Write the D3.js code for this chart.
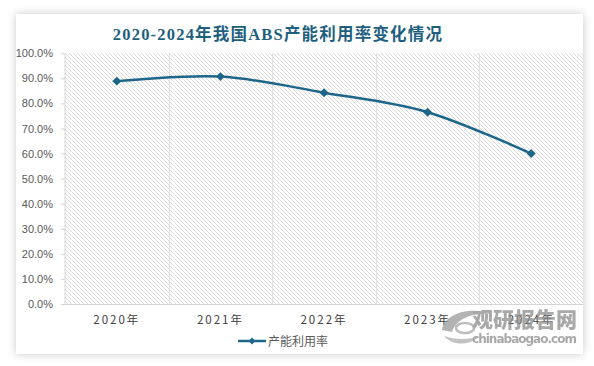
<!DOCTYPE html>
<html>
<head>
<meta charset="utf-8">
<script src="https://cdn.jsdelivr.net/npm/d3@7"></script>
<style>
  html, body { margin: 0; padding: 0; background: #ffffff; }
  svg { display: block; }
</style>
</head>
<body>
<svg id="chart" width="594" height="366"></svg>
<script>
const title = "2020-2024年我国ABS产能利用率变化情况";
const categories = ["2020年", "2021年", "2022年", "2023年", "2024年"];
const values = [88.9, 90.7, 84.3, 76.5, 60.0];
const seriesName = "产能利用率";
const yTicks = [0, 10, 20, 30, 40, 50, 60, 70, 80, 90, 100];

const W = 594, H = 366;
const plot = { left: 65, right: 583, top: 53.3, bottom: 304 };
const lineColor = "#1d6689";

const svg = d3.select("#chart");
const defs = svg.append("defs");

const shadow = defs.append("filter").attr("id", "shadow")
  .attr("x", "-10%").attr("y", "-10%").attr("width", "120%").attr("height", "120%");
shadow.append("feDropShadow").attr("dx", 0).attr("dy", 0)
  .attr("stdDeviation", 4).attr("flood-color", "#000").attr("flood-opacity", 0.22);

const pat = defs.append("pattern").attr("id", "hatch")
  .attr("patternUnits", "userSpaceOnUse").attr("width", 4).attr("height", 4);
pat.append("rect").attr("width", 4).attr("height", 4).attr("fill", "#ffffff");
pat.append("path").attr("d", "M-1,-1 L5,5 M-1,3 L1,5 M3,-1 L5,1")
  .attr("stroke", "#dcdcdc").attr("stroke-width", 1);

// card
svg.append("rect").attr("x", 16).attr("y", 14).attr("width", 567).attr("height", 340)
  .attr("fill", "#ffffff").attr("filter", "url(#shadow)");

// scales
const x = d3.scaleBand().domain(categories).range([plot.left, plot.right]).padding(0);
const y = d3.scaleLinear().domain([0, 100]).range([plot.bottom, plot.top]);

// plot area background hatch
svg.append("rect").attr("x", plot.left).attr("y", y(100))
  .attr("width", plot.right - plot.left).attr("height", y(0) - y(100))
  .attr("fill", "url(#hatch)");

// vertical gridlines at category boundaries
svg.append("g").selectAll("line").data(categories.slice(1)).join("line")
  .attr("x1", d => Math.round(x(d)) + 0.5).attr("x2", d => Math.round(x(d)) + 0.5)
  .attr("y1", y(100)).attr("y2", y(0))
  .attr("stroke", "#dedede").attr("stroke-width", 1);

// y axis
const yAxis = d3.axisLeft(y).tickValues(yTicks).tickSize(4).tickPadding(8)
  .tickFormat(d => d.toFixed(1) + "%");
const gy = svg.append("g").attr("transform", `translate(${plot.left},0)`).call(yAxis);
gy.select(".domain").attr("stroke", "#d4d4d4").attr("d", `M0,${y(100)}V${y(0)}`);
gy.selectAll(".tick line").attr("stroke", "#d4d4d4");
gy.selectAll(".tick text").attr("fill", "#595959")
  .style("font-family", "'Liberation Sans', Arial, sans-serif").style("font-size", "11px");

// x axis
const xAxis = d3.axisBottom(x).tickSize(0).tickPadding(12);
const gx = svg.append("g").attr("transform", `translate(0,${plot.bottom})`).call(xAxis);
gx.select(".domain").attr("stroke", "#d4d4d4").attr("d", `M${plot.left},0.5H${plot.right}`);
gx.selectAll(".tick text").attr("fill", "#404040")
  .style("font-family", "'Noto Sans CJK SC', 'Liberation Sans', sans-serif")
  .style("font-size", "11.5px").style("letter-spacing", "2px");

// line
const pts = categories.map((c, i) => [x(c) + x.bandwidth() / 2, y(values[i])]);
const line = d3.line().curve(d3.curveCardinal.tension(0));
svg.append("path").attr("d", line(pts)).attr("fill", "none")
  .attr("stroke", lineColor).attr("stroke-width", 2.5);

svg.append("g").selectAll("path").data(pts).join("path")
  .attr("d", d3.symbol().type(d3.symbolSquare).size(40))
  .attr("transform", d => `translate(${d[0]},${d[1]}) rotate(45)`)
  .attr("fill", lineColor);

// title
svg.append("text").attr("x", 278).attr("y", 40).attr("text-anchor", "middle")
  .attr("fill", "#1e5f80")
  .style("font-family", "'Liberation Serif', 'Noto Sans CJK SC', serif")
  .style("font-weight", "bold").style("font-size", "16.5px").style("letter-spacing", "1.2px")
  .text(title);

// legend
const lg = svg.append("g").attr("transform", "translate(238,341)");
lg.append("line").attr("x1", 0).attr("x2", 28).attr("y1", 0).attr("y2", 0)
  .attr("stroke", lineColor).attr("stroke-width", 2.5);
lg.append("path").attr("d", d3.symbol().type(d3.symbolSquare).size(24))
  .attr("transform", "translate(14,0) rotate(45)").attr("fill", lineColor);
lg.append("text").attr("x", 30).attr("y", 4.5).attr("fill", "#595959")
  .style("font-family", "'Noto Sans CJK SC', sans-serif").style("font-size", "12px")
  .text(seriesName);

// watermark
const wm = svg.append("g").attr("opacity", 0.75);
wm.append("path").attr("d", "M442,330 C444,314 470,306 492,314 C474,312 456,318 452,332 Z")
  .attr("fill", "#9a9a9a");
wm.append("path").attr("d", "M444,336 C452,346 470,346 480,336 C468,340 456,340 444,336 Z")
  .attr("fill", "#b0b0b0");
wm.append("ellipse").attr("cx", 465).attr("cy", 328).attr("rx", 9).attr("ry", 5)
  .attr("fill", "none").attr("stroke", "#a8a8a8").attr("stroke-width", 2.5);
wm.append("text").attr("x", 472).attr("y", 327)
  .attr("fill", "#8c8c8c")
  .style("font-family", "'Noto Sans CJK SC', sans-serif").style("font-weight", "900")
  .style("font-size", "21px").text("观研报告网");
wm.append("text").attr("x", 472).attr("y", 343)
  .attr("fill", "#8c8c8c")
  .style("font-family", "'DejaVu Sans', sans-serif").style("font-weight", "bold")
  .style("font-size", "12px").attr("textLength", 105).text("chinabaogao.com");
</script>
</body>
</html>
